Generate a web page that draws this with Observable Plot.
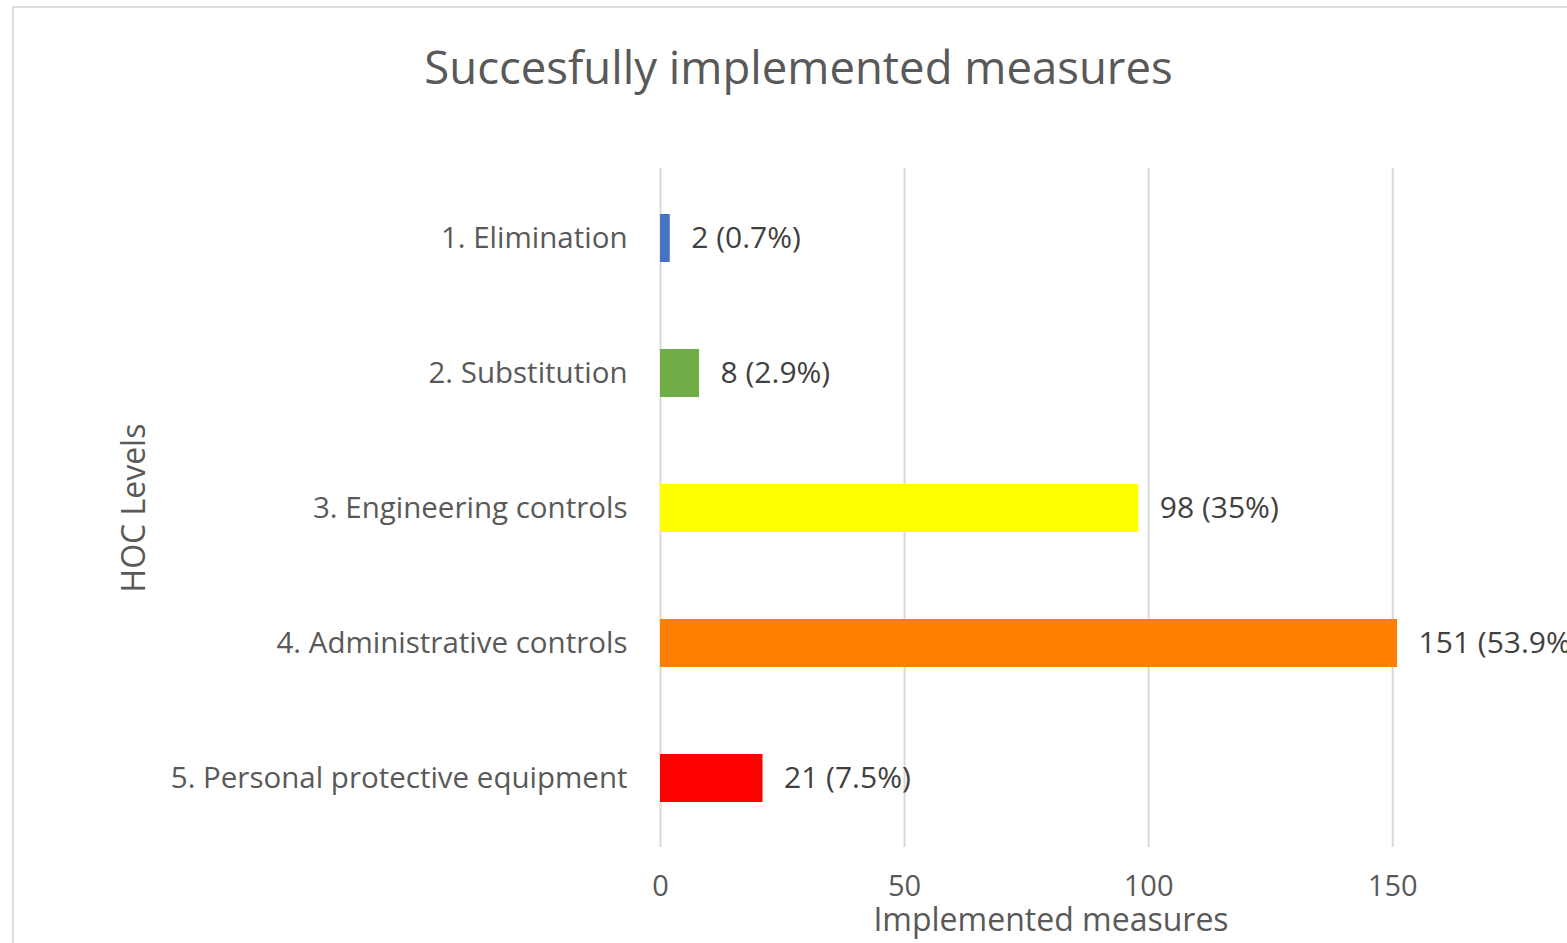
<!DOCTYPE html>
<html>
<head>
<meta charset="utf-8">
<script src="https://cdn.jsdelivr.net/npm/d3@7"></script>
<script src="https://cdn.jsdelivr.net/npm/@observablehq/plot@0.6"></script>
<style>
  html, body { margin: 0; padding: 0; background: #fff; overflow: hidden; width: 1567px; height: 943px; }
  #frame { position: absolute; left: 12px; top: 6px; width: 1700px; height: 1100px; border-left: 2px solid #dcdcdc; border-top: 2px solid #dcdcdc; pointer-events: none; }
  #title { height: 110px; box-sizing: border-box; padding-top: 38px; text-align: center; font-family: "Open Sans", Lato, sans-serif; font-size: 45.5px; color: #595959; line-height: 56px; padding-left: 30px; }
  #chart svg { overflow: visible; max-width: none; }
  #chart g[aria-label="x-axis label"] text, #chart g[aria-label="y-axis label"] text { font-size: 32px; }
  #chart g[aria-label="x-axis label"], #chart g[aria-label="y-axis label"] { font-size: 32px; }
</style>
</head>
<body>
<div id="frame"></div>
<div id="title">Succesfully implemented measures</div>
<div id="chart"></div>
<script>
const categories = [
  "1. Elimination",
  "2. Substitution",
  "3. Engineering controls",
  "4. Administrative controls",
  "5. Personal protective equipment"
];
const counts = [2, 8, 98, 151, 21];
const percents = ["0.7%", "2.9%", "35%", "53.9%", "7.5%"];
const colors = ["#4472C4", "#70AD47", "#FFFF00", "#FF8000", "#FF0000"];
const xTicks = [0, 50, 100, 150];

const data = categories.map((c, i) => ({
  category: c,
  value: counts[i],
  label: `${counts[i]} (${percents[i]})`,
  color: colors[i]
}));

const font = "'Open Sans', Lato, sans-serif";

const chart = Plot.plot({
  width: 1567,
  height: 833,
  marginLeft: 660,
  marginRight: 126,
  marginTop: 58,
  marginBottom: 96,
  style: { fontFamily: font, background: "transparent", overflow: "visible" },
  x: { domain: [0, 160], ticks: xTicks },
  y: { domain: categories, paddingInner: 0.645, paddingOuter: 0.3225 },
  marks: [
    Plot.gridX(xTicks, { stroke: "#d9d9d9", strokeOpacity: 1, strokeWidth: 2 }),
    Plot.barX(data, { x: "value", y: "category", fill: "color" }),
    Plot.text(data, { x: "value", y: "category", text: "label", textAnchor: "start", dx: 21, fontSize: 30, fill: "#404040" }),
    Plot.axisX({ ticks: xTicks, tickSize: 0, tickPadding: 28, fontSize: 29, color: "#595959",
      label: "Implemented measures", labelAnchor: "center", labelArrow: "none", labelOffset: 83 }),
    Plot.axisY({ tickSize: 0, tickPadding: 33, fontSize: 29.5, color: "#595959",
      label: "HOC Levels", labelAnchor: "center", labelArrow: "none", labelOffset: 538 })
  ]
});
document.getElementById("chart").appendChild(chart);
</script>
</body>
</html>
